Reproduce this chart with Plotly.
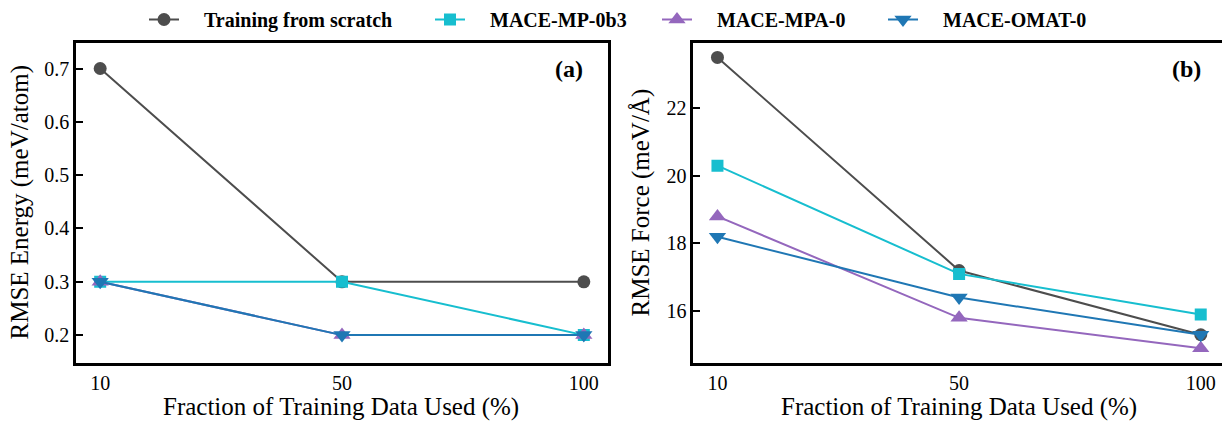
import plotly.graph_objects as go

fractions = ["10", "50", "100"]
series_names = ["Training from scratch", "MACE-MP-0b3", "MACE-MPA-0", "MACE-OMAT-0"]
energy_scratch = [0.7, 0.3, 0.3]
energy_mp0b3 = [0.3, 0.3, 0.2]
energy_mpa0 = [0.3, 0.2, 0.2]
energy_omat0 = [0.3, 0.2, 0.2]
force_scratch = [23.5, 17.2, 15.3]
force_mp0b3 = [20.3, 17.1, 15.9]
force_mpa0 = [18.8, 15.8, 14.9]
force_omat0 = [18.2, 16.4, 15.3]

colors = ["#4d4d4d", "#17becf", "#9467bd", "#1f77b4"]
symbols = ["circle", "square", "triangle-up", "triangle-down"]
sizes = [13, 12, 15, 15]

energy = [energy_scratch, energy_mp0b3, energy_mpa0, energy_omat0]
force = [force_scratch, force_mp0b3, force_mpa0, force_omat0]
legend_ids = ["legend", "legend2", "legend3", "legend4"]
legend_x = [144, 430, 657, 883]
PAD = "\u00a0" * 4

FONT = "Liberation Serif"
fig = go.Figure()
for i, name in enumerate(series_names):
    fig.add_trace(go.Scatter(
        x=fractions, y=energy[i], name=PAD + name, mode="lines+markers",
        line=dict(color=colors[i], width=2),
        marker=dict(symbol=symbols[i], size=sizes[i], color=colors[i]),
        xaxis="x", yaxis="y", legend=legend_ids[i], showlegend=True))
for i, name in enumerate(series_names):
    fig.add_trace(go.Scatter(
        x=fractions, y=force[i], name=name, mode="lines+markers",
        line=dict(color=colors[i], width=2),
        marker=dict(symbol=symbols[i], size=sizes[i], color=colors[i]),
        xaxis="x2", yaxis="y2", showlegend=False))

ydom = [1 - 362.7 / 421, 1 - 42 / 421]
axis_common = dict(showgrid=False, zeroline=False, showline=True, linecolor="black",
                   linewidth=2.5, automargin=False,
                   tickfont=dict(family=FONT, size=20, color="black"))
tfont = dict(family=FONT, size=25, color="black")

legends = {}
for i, lid in enumerate(legend_ids):
    legends[lid] = dict(orientation="h", x=legend_x[i] / 1222, xanchor="left",
                        y=1 - 19 / 421, yanchor="middle",
                        font=dict(family=FONT, size=20, color="black", weight="bold"),
                        bgcolor="rgba(0,0,0,0)", itemwidth=30)

fig.update_layout(
    width=1222, height=421,
    margin=dict(l=0, r=0, t=0, b=0),
    paper_bgcolor="white", plot_bgcolor="white",
    font=dict(family=FONT, color="black"),
    xaxis=dict(domain=[76 / 1222, 608 / 1222], type="category", range=[-0.1, 2.1],
               ticks="", mirror=True, anchor="y", **axis_common),
    yaxis=dict(domain=ydom, range=[0.148, 0.748], tickvals=[0.2, 0.3, 0.4, 0.5, 0.6, 0.7],
               ticktext=["0.2", "0.3", "0.4", "0.5", "0.6", "0.7"],
               ticks="inside", ticklen=7, tickwidth=1.5, tickcolor="black", mirror=True, anchor="x",
               **axis_common),
    xaxis2=dict(domain=[693.3 / 1222, 1.0], type="category", range=[-0.1, 2.088],
                ticks="", mirror=True, anchor="y2", **axis_common),
    yaxis2=dict(domain=ydom, range=[14.47, 23.93], tickvals=[16, 18, 20, 22],
                ticks="inside", ticklen=7, tickwidth=1.5, tickcolor="black", mirror=False, anchor="x2",
                **axis_common),
    annotations=[
        dict(text="<b>(a)</b>", x=585 / 1222, y=1 - 68 / 421, xref="paper", yref="paper",
             showarrow=False, font=dict(family=FONT, size=24, color="black"),
             xanchor="right", yanchor="middle"),
        dict(text="<b>(b)</b>", x=1203 / 1222, y=1 - 68 / 421, xref="paper", yref="paper",
             showarrow=False, font=dict(family=FONT, size=24, color="black"),
             xanchor="right", yanchor="middle"),
        dict(text="Fraction of Training Data Used (%)", x=341 / 1222, y=1 - 407 / 421,
             xref="paper", yref="paper", showarrow=False, font=tfont,
             xanchor="center", yanchor="middle"),
        dict(text="Fraction of Training Data Used (%)", x=959 / 1222, y=1 - 407 / 421,
             xref="paper", yref="paper", showarrow=False, font=tfont,
             xanchor="center", yanchor="middle"),
        dict(text="RMSE Energy (meV/atom)", x=20 / 1222, y=1 - 202 / 421, textangle=-90,
             xref="paper", yref="paper", showarrow=False, font=tfont,
             xanchor="center", yanchor="middle"),
        dict(text="RMSE Force (meV/Å)", x=641 / 1222, y=1 - 202 / 421, textangle=-90,
             xref="paper", yref="paper", showarrow=False, font=tfont,
             xanchor="center", yanchor="middle"),
    ],
    **legends,
)

fig.write_html("out.html", config={"displayModeBar": False},
               post_script="document.body.style.margin='0';")
